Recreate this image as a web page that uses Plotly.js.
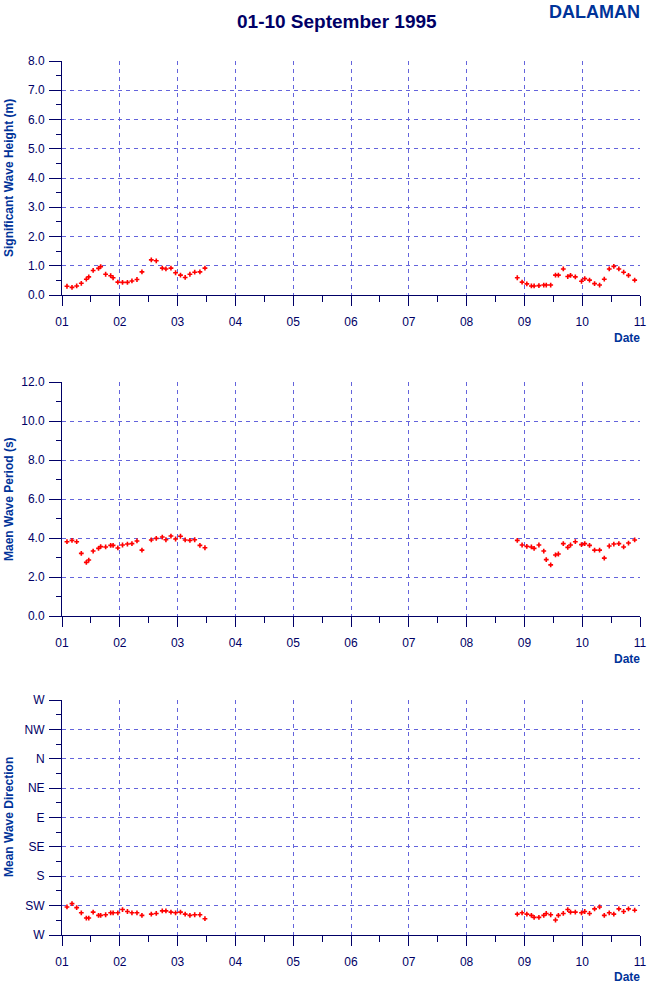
<!DOCTYPE html>
<html>
<head>
<meta charset="utf-8">
<script src="https://cdn.plot.ly/plotly-3.0.1.min.js"></script>
<style>html,body{margin:0;padding:0;background:#fff;}#chart{width:650px;height:986px;}</style>
</head>
<body>
<div id="chart"></div>
<script>
// Time in days of September 1995 (1.0 = 01 Sep 00:00)
var timesA = [1.086,1.173,1.254,1.334,1.421,1.463,1.539,1.632,1.669,1.755,1.842,1.884,1.966,2.047,2.132,2.210,2.297,2.383,2.545,2.631,2.735,2.798,2.885,2.965,3.050,3.131,3.213,3.296,3.386,3.473];
var timesB = [8.877,8.960,9.042,9.121,9.168,9.251,9.335,9.378,9.455,9.538,9.588,9.673,9.750,9.798,9.881,9.988,10.044,10.127,10.214,10.301,10.382,10.468,10.547,10.634,10.717,10.801,10.908];

// Significant wave height (m)
var heightA = [0.30,0.26,0.31,0.40,0.54,0.62,0.84,0.91,0.97,0.71,0.66,0.59,0.44,0.43,0.43,0.48,0.53,0.79,1.20,1.17,0.92,0.89,0.92,0.76,0.68,0.60,0.71,0.78,0.79,0.92];
var heightB = [0.59,0.44,0.38,0.31,0.31,0.32,0.34,0.34,0.34,0.68,0.68,0.89,0.63,0.67,0.62,0.47,0.56,0.51,0.39,0.34,0.54,0.89,0.98,0.89,0.78,0.67,0.51];

// Mean wave period (s)
var periodA = [3.81,3.88,3.81,3.21,2.75,2.87,3.33,3.47,3.56,3.54,3.62,3.62,3.49,3.64,3.69,3.71,3.85,3.38,3.90,3.98,4.05,3.91,4.10,3.95,4.09,3.90,3.88,3.91,3.62,3.50];
var periodB = [3.88,3.64,3.57,3.54,3.47,3.64,3.33,2.89,2.62,3.13,3.18,3.71,3.52,3.64,3.81,3.66,3.71,3.62,3.38,3.38,2.97,3.59,3.69,3.71,3.54,3.74,3.90];

// Mean wave direction (degrees)
var directionA = [227,222,228,236,244,244,235,240,240,239,236,236,236,231,234,236,236,240,238,237,233,233,235,236,235,238,240,239,239,245];
var directionB = [238,236,238,240,243,243,240,237,239,247,240,237,231,235,235,236,234,237,230,227,240,236,238,230,234,230,232];

var dirTickVals = [270,225,180,135,90,45,0,-45,-90];
var dirTickText = ['W','SW','S','SE','E','NE','N','NW','W'];
var dirMinorVals = [247.5,202.5,157.5,112.5,67.5,22.5,-22.5,-67.5];

var navy = '#000066';
var blue = '#003399';
var gridCol = '#6464dc';
var tickFont = {family:'Liberation Sans, Arial, sans-serif', size:12, color:navy};

function mk(x, y, xa, ya) {
  return {x:x, y:y, xaxis:xa, yaxis:ya, type:'scatter', mode:'markers',
    marker:{symbol:'cross', size:4, color:'#ff0000', line:{width:0}}, hoverinfo:'skip', showlegend:false};
}

var data = [
  mk(timesA, heightA, 'x', 'y'), mk(timesB, heightB, 'x', 'y'),
  mk(timesA, periodA, 'x2', 'y2'), mk(timesB, periodB, 'x2', 'y2'),
  mk(timesA, directionA, 'x3', 'y3'), mk(timesB, directionB, 'x3', 'y3')
];

function xAxis(anchor) {
  return {domain:[62/650, 640/650], anchor:anchor, range:[1,11], tickmode:'linear', tick0:1, dtick:1,
    tickformat:'02d', showline:true, linecolor:navy, linewidth:1, ticks:'outside', ticklen:10,
    tickcolor:navy, tickwidth:1, tickfont:tickFont, ticklabelstandoff:6,
    showgrid:true, gridcolor:gridCol, griddash:'4px,4px', gridwidth:1, zeroline:false,
    minor:{tickmode:'linear', dtick:0.5, tick0:1, ticks:'outside', ticklen:6, tickcolor:navy, showgrid:false}};
}
function yBase(anchor, top, bottom) {
  return {domain:[1-bottom/986, 1-top/986], anchor:anchor, showline:true, linecolor:navy, linewidth:1,
    ticks:'outside', ticklen:12, tickcolor:navy, tickwidth:1, tickfont:tickFont, ticklabelstandoff:2,
    showgrid:true, gridcolor:gridCol, griddash:'4px,4px', gridwidth:1, zeroline:false};
}

var y1 = yBase('x', 61, 295);
Object.assign(y1, {range:[0,8], tickmode:'linear', tick0:0, dtick:1, tickformat:'.1f',
  minor:{tickmode:'linear', tick0:0, dtick:0.5, ticks:'outside', ticklen:5, tickcolor:navy, showgrid:false}});
var y2 = yBase('x2', 382, 616);
Object.assign(y2, {range:[0,12], tickmode:'linear', tick0:0, dtick:2, tickformat:'.1f',
  minor:{tickmode:'linear', tick0:0, dtick:1, ticks:'outside', ticklen:5, tickcolor:navy, showgrid:false}});
var y3 = yBase('x3', 700, 935);
Object.assign(y3, {range:[270,-90], tickmode:'array', tickvals:dirTickVals, ticktext:dirTickText,
  minor:{tickmode:'array', tickvals:dirMinorVals, ticks:'outside', ticklen:5, tickcolor:navy, showgrid:false}});

function ann(text, xpx, ypx, opts) {
  var a = {text:text, xref:'paper', yref:'paper', x:xpx/650, y:1-ypx/986, showarrow:false,
    font:{family:'Liberation Sans, Arial, sans-serif', size:12, color:blue}, xanchor:'center', yanchor:'middle'};
  return Object.assign(a, opts || {});
}

var annotations = [
  ann('<b>01-10 September 1995</b>', 337, 22, {font:{family:'Liberation Sans Narrow, Arial Narrow, Liberation Sans, sans-serif', size:19, color:navy}}),
  ann('<b>DALAMAN</b>', 642, 12, {xanchor:'right', font:{family:'Liberation Sans, Arial, sans-serif', size:18, color:blue}}),
  ann('<b>Significant Wave Height (m)</b>', 9, 178, {textangle:-90}),
  ann('<b>Maen Wave Period (s)</b>', 9, 499, {textangle:-90}),
  ann('<b>Mean Wave Direction</b>', 9, 817, {textangle:-90}),
  ann('<b>Date</b>', 642, 338, {xanchor:'right'}),
  ann('<b>Date</b>', 642, 659, {xanchor:'right'}),
  ann('<b>Date</b>', 642, 977, {xanchor:'right'})
];

var layout = {
  width:650, height:986, margin:{l:0, r:0, t:0, b:0}, paper_bgcolor:'#ffffff', plot_bgcolor:'#ffffff',
  showlegend:false,
  xaxis:xAxis('y'), xaxis2:xAxis('y2'), xaxis3:xAxis('y3'),
  yaxis:y1, yaxis2:y2, yaxis3:y3,
  annotations:annotations
};

Plotly.newPlot('chart', data, layout, {displayModeBar:false, staticPlot:true});
</script>
</body>
</html>
